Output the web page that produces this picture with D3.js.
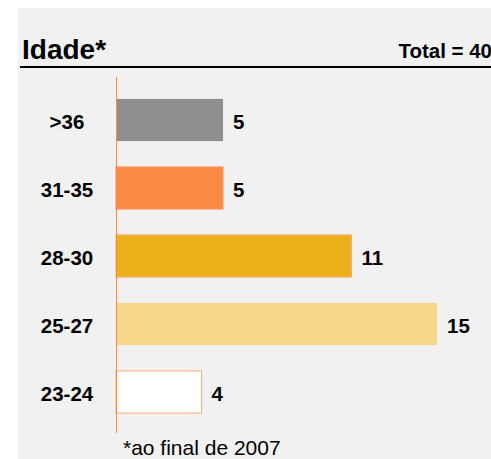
<!DOCTYPE html>
<html><head><meta charset="utf-8">
<script src="https://cdn.jsdelivr.net/npm/d3@7"></script>
<style>body{margin:0;background:#fff;}svg{display:block;font-family:"Liberation Sans",Arial,sans-serif;}</style>
</head><body>
<script>
const categories = [">36", "31-35", "28-30", "25-27", "23-24"];
const values = [5, 5, 11, 15, 4];
const colors = ["#8f8f8f", "#fb8a47", "#ebb11b", "#f5d88a", "#ffffff"];
const strokes = ["none", "#fb9a60", "#fba86e", "none", "#fba86e"];
const title = "Idade*";
const totalLabel = "Total = 40";
const footnote = "*ao final de 2007";

const W = 491, H = 459;
const svg = d3.select("body").append("svg").attr("width", W).attr("height", H);
svg.append("rect").attr("x", 18).attr("y", 8).attr("width", W - 18).attr("height", H - 8).attr("fill", "#f1f1f1");

svg.append("text").attr("x", 22).attr("y", 59).attr("font-size", 28).attr("font-weight", "bold").attr("fill", "#000").text(title);
svg.append("text").attr("x", 492).attr("y", 58).attr("text-anchor", "end").attr("font-size", 20.5).attr("font-weight", "bold").attr("fill", "#000").text(totalLabel);
svg.append("line").attr("x1", 20).attr("x2", W).attr("y1", 67).attr("y2", 67).attr("stroke", "#000").attr("stroke-width", 2);

const x = d3.scaleLinear().domain([0, 15]).range([116, 437]);
const y = d3.scaleBand().domain(categories).range([86, 426]).paddingInner(0.38).paddingOuter(0.19);

svg.selectAll("rect.bar").data(categories).enter().append("rect")
  .attr("class", "bar")
  .attr("x", x(0))
  .attr("y", d => y(d))
  .attr("width", (d, i) => x(values[i]) - x(0))
  .attr("height", y.bandwidth())
  .attr("fill", (d, i) => colors[i])
  .attr("stroke", (d, i) => strokes[i])
  .attr("stroke-width", 1);

svg.append("line").attr("x1", 116.5).attr("x2", 116.5).attr("y1", 77).attr("y2", 433).attr("stroke", "#fb8a47").attr("stroke-width", 1);

svg.selectAll("text.cat").data(categories).enter().append("text")
  .attr("class", "cat")
  .attr("x", 67)
  .attr("y", d => y(d) + y.bandwidth() / 2 + 1.5)
  .attr("dy", "0.35em")
  .attr("text-anchor", "middle")
  .attr("font-size", 20.5)
  .attr("font-weight", "bold")
  .text(d => d);

svg.selectAll("text.val").data(categories).enter().append("text")
  .attr("class", "val")
  .attr("x", (d, i) => x(values[i]) + 10)
  .attr("y", d => y(d) + y.bandwidth() / 2 + 2)
  .attr("dy", "0.35em")
  .attr("font-size", 20.5)
  .attr("font-weight", "bold")
  .text((d, i) => values[i]);

svg.append("text").attr("x", 123).attr("y", 455).attr("font-size", 21).attr("fill", "#000").text(footnote);
</script>
</body></html>
